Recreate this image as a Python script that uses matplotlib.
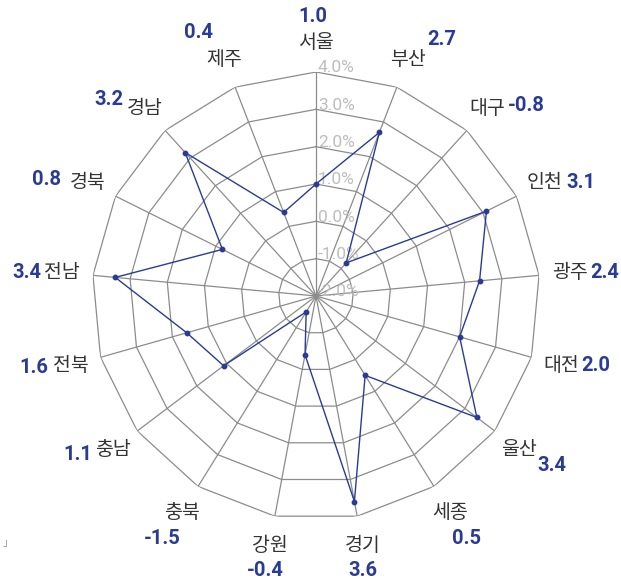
import numpy as np
import matplotlib
matplotlib.use('Agg')
import matplotlib.pyplot as plt

regions = ['서울', '부산', '대구', '인천', '광주', '대전', '울산', '세종', '경기',
           '강원', '충북', '충남', '전북', '전남', '경북', '경남', '제주']
values = [1.0, 2.7, -0.8, 3.1, 2.4, 2.0, 3.4, 0.5, 3.6,
          -0.4, -1.5, 1.1, 1.6, 3.4, 0.8, 3.2, 0.4]
ticks = [-2.0, -1.0, 0.0, 1.0, 2.0, 3.0, 4.0]

# where each value label sits relative to its region name (pixels)
value_offsets = [(-3, -27), (34, -20), (39, -3), (37, 0), (35, 0), (35, 0),
                 (33, 16), (17, 26), (0, 25), (-4, 25), (-20, 26), (-35, 5),
                 (-37, 2), (-35, 0), (-41, -3), (-36, -9), (-26, -27)]

plt.rcParams['font.family'] = ['Noto Sans CJK KR', 'DejaVu Sans']

line_color = '#2a3b96'
grid_color = '#8c8c8c'

W, H = 621, 580
cx, cy, R = 316, 296, 224
fig = plt.figure(figsize=(W / 100, H / 100), dpi=100)
ax = fig.add_axes([(cx - R) / W, (H - cy - R) / H, 2 * R / W, 2 * R / H], projection='polar')
ax.set_theta_zero_location('N')
ax.set_theta_direction(-1)
rmin, rmax = ticks[0], ticks[-1]
ax.set_ylim(rmin, rmax)
ax.grid(False)
ax.spines['polar'].set_visible(False)
ax.set_xticks([])
ax.set_yticks([])
ax.patch.set_alpha(0)

n = len(regions)
angles = np.arange(n) * 2 * np.pi / n
closed = np.append(angles, angles[0])

# polygon grid
for t in ticks[1:]:
    ax.plot(closed, [t] * (n + 1), color=grid_color, lw=0.9, zorder=1)
for a in angles:
    ax.plot([a, a], [rmin, rmax], color=grid_color, lw=0.9, zorder=1)

# tick labels
unit = R / (rmax - rmin)
for t in ticks:
    ax.annotate(f'{t:.1f}%', xy=(0, t), xytext=(2, 4), textcoords='offset pixels',
                ha='left', va='center', fontsize=12.5, color='#bdbdbd',
                family=['Roboto', 'DejaVu Sans'], zorder=2, annotation_clip=False)

# data
vals = np.append(values, values[0])
ax.plot(closed, vals, color=line_color, lw=1.0, zorder=3)
ax.plot(angles, values, 'o', color=line_color, ms=3.2, zorder=4)

# labels
for a, name, v, off in zip(angles, regions, values, value_offsets):
    s = abs(np.sin(a))
    r_name = rmin + (253 + 2 * s) / unit
    ax.text(a, r_name, name, ha='center', va='center', fontsize=14,
            color='#333333', clip_on=False)
    ax.annotate(f'{v:.1f}', xy=(a, r_name), xytext=(off[0], -off[1]),
                textcoords='offset pixels', ha='center', va='center', fontsize=14.5,
                fontweight='bold', color=line_color, family=['Roboto', 'DejaVu Sans'],
                annotation_clip=False)

fig.text(3 / W, 1 - 543 / H, '」', fontsize=8, color='#999999', va='center')

fig.savefig('out.png', dpi=100)
